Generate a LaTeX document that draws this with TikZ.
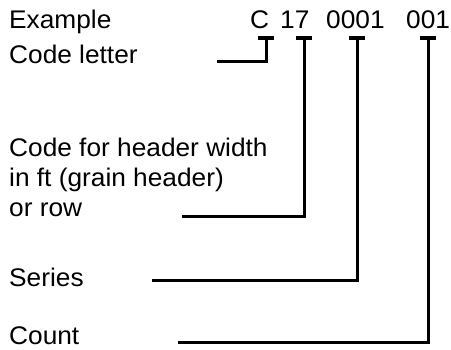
\documentclass[tikz,border=0pt]{standalone}
\usepackage{fontspec}
\setmainfont{Liberation Sans}[FakeStretch=1.03]
\usetikzlibrary{calc}

\tikzset{
    lbl/.style={anchor=base west, inner sep=0pt, font=\fontsize{25.5}{30}\selectfont},
    lead/.style={line width=3pt, line join=miter},
    tickbar/.style={line width=4pt}
}

\begin{document}
\begin{tikzpicture}[x=1pt, y=-1pt]
    \useasboundingbox (0,0) rectangle (451,350);

    % The example code and its parts
    \node[lbl] (ex) at (9,29) {Example};
    \node[lbl] (cC) at (250,29) {C};
    \node[lbl] (c17) at (280,29) {17};
    \node[lbl] (c0001) at (326,29) {0001};
    \node[lbl] (c001) at (406,29) {001};

    % The labels on the left
    \node[lbl] (lblcode) at (9,64) {Code letter};
    \node[lbl] (lblhdra) at (9,157) {Code for header width};
    \node[lbl] (lblhdrb) at (9,187) {in ft (grain header)};
    \node[lbl] (lblhdrc) at (9,217) {or row};
    \node[lbl] (lblser) at (9,287) {Series};
    \node[lbl] (lblcnt) at (9,345) {Count};

    % Tick points under each part, and the free ends of the leaders
    \coordinate (tC) at (266,38);
    \coordinate (t17) at (304,38);
    \coordinate (t0001) at (357,38);
    \coordinate (t001) at (428,38);
    \coordinate (eC) at (217,62);
    \coordinate (e17) at (182,217);
    \coordinate (e0001) at (152,281);
    \coordinate (e001) at (178,343);

    % Draw the ticks
    \foreach \t in {tC,t17,t0001,t001} {
        \draw[tickbar] ($(\t)+(-8,0)$) -- ($(\t)+(8,0)$);
    }

    % Draw the leaders
    \draw[lead] (tC) |- (eC);
    \draw[lead] (t17) |- (e17);
    \draw[lead] (t0001) |- (e0001);
    \draw[lead] (t001) |- (e001);
\end{tikzpicture}
\end{document}
